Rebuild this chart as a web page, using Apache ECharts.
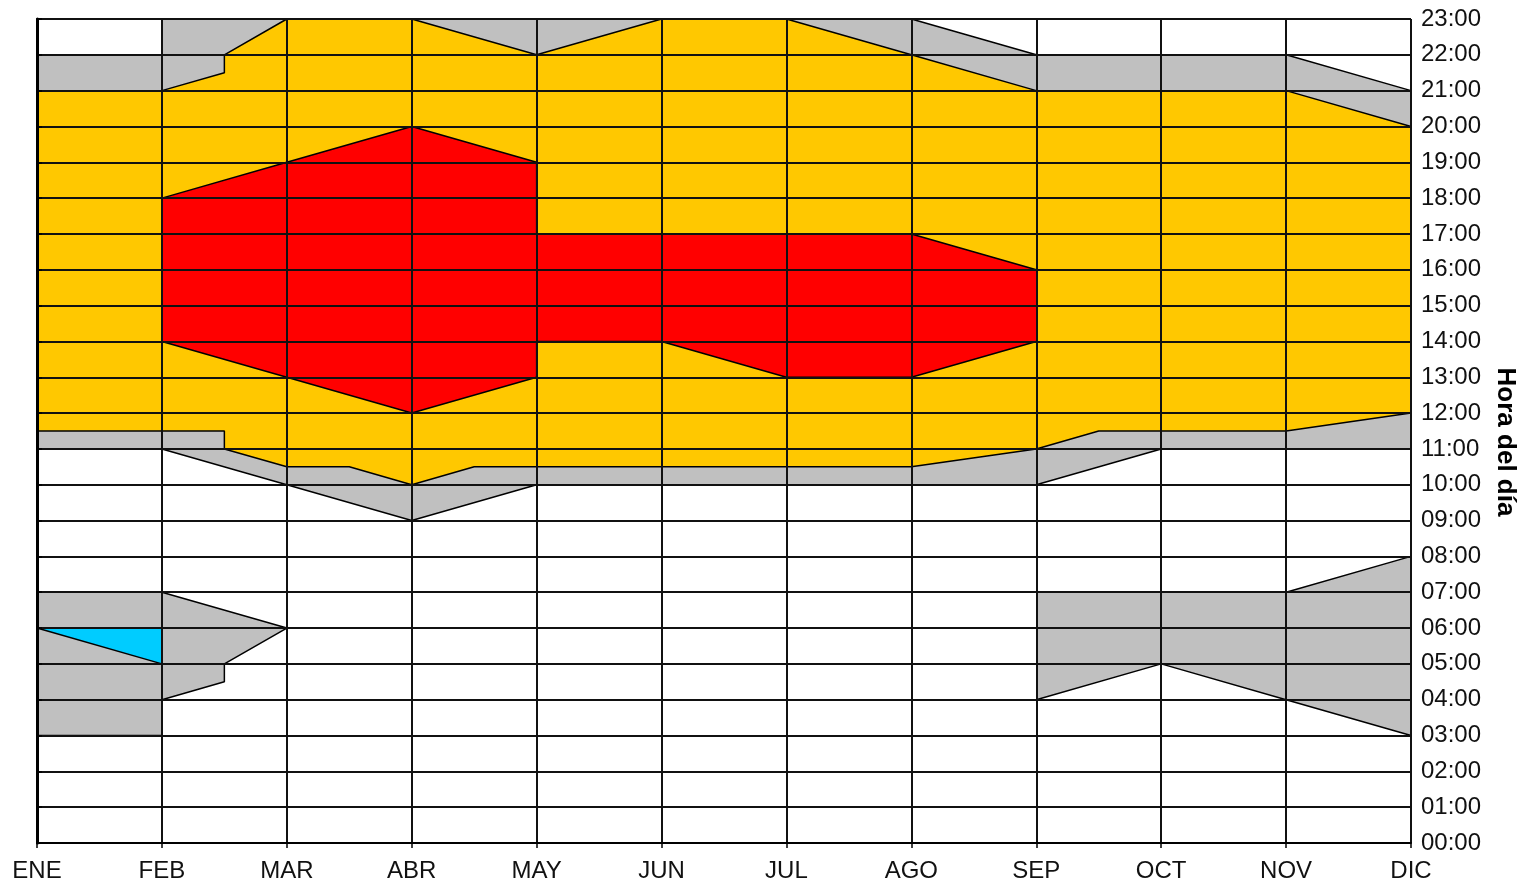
<!DOCTYPE html>
<html>
<head>
<meta charset="utf-8">
<script src="https://cdn.jsdelivr.net/npm/echarts@6/dist/echarts.min.js"></script>
<style>
html, body { margin: 0; padding: 0; background: #fff; }
#chart { width: 1520px; height: 886px; }
</style>
</head>
<body>
<div id="chart"></div>
<script>
// months along the bottom, hours on the right
var months = ['ENE', 'FEB', 'MAR', 'ABR', 'MAY', 'JUN', 'JUL', 'AGO', 'SEP', 'OCT', 'NOV', 'DIC'];
var hourLabels = ['00:00', '01:00', '02:00', '03:00', '04:00', '05:00', '06:00', '07:00',
    '08:00', '09:00', '10:00', '11:00', '12:00', '13:00', '14:00', '15:00',
    '16:00', '17:00', '18:00', '19:00', '20:00', '21:00', '22:00', '23:00'];

// band edges: [month index, hour]
var upperGrayTop = [[0, 22], [1, 22], [1, 23], [2, 23], [3, 23], [4, 23], [5, 23], [6, 23], [7, 23], [8, 22], [9, 22], [10, 22], [11, 21]];
var yellowTop = [[0, 21], [1, 21], [1.5, 21.5], [1.5, 22], [2, 23], [3, 23], [4, 22], [5, 23], [6, 23], [7, 22], [8, 21], [9, 21], [10, 21], [11, 20]];
var redTop = [[1, 18], [2, 19], [3, 20], [4, 19], [4, 17], [5, 17], [6, 17], [7, 17], [8, 16]];
var redBottom = [[1, 14], [2, 13], [3, 12], [4, 13], [4, 14], [5, 14], [6, 13], [7, 13], [8, 14]];
var yellowBottom = [[0, 11.5], [1, 11.5], [1.5, 11.5], [1.5, 11], [2, 10.5], [2.5, 10.5], [3, 10], [3.5, 10.5], [4, 10.5], [5, 10.5], [6, 10.5], [7, 10.5], [8, 11], [8.5, 11.5], [9, 11.5], [10, 11.5], [11, 12]];
var upperGrayBottom = [[0, 11], [1, 11], [2, 10], [3, 9], [4, 10], [5, 10], [6, 10], [7, 10], [8, 10], [9, 11], [10, 11], [11, 11]];
var lowGrayTopA = [[0, 7], [1, 7], [2, 6]];
var lowGrayBottomA = [[0, 3], [1, 3], [1, 4], [1.5, 4.5], [1.5, 5], [2, 6]];
var lowGrayTopB = [[8, 7], [9, 7], [10, 7], [11, 8]];
var lowGrayBottomB = [[8, 4], [9, 5], [10, 4], [11, 3]];
var cyanTop = [[0, 6], [1, 6]];
var cyanBottom = [[0, 6], [1, 5]];

var GRAY = '#c0c0c0', YELLOW = '#ffc800', RED = '#ff0000', CYAN = '#00ccff', WHITE = '#ffffff';

// each band is painted from its edge down to 0, later ones on top
function band(data, color) {
    return {
        type: 'line',
        data: data,
        symbol: 'none',
        silent: true,
        lineStyle: { color: '#000', width: 1.5 },
        areaStyle: { color: color, opacity: 1 }
    };
}

var myChart = echarts.init(document.getElementById('chart'));

var option = {
    animation: false,
    backgroundColor: '#fff',
    textStyle: { fontFamily: 'Liberation Sans, Arial, sans-serif' },
    grid: { left: 37, right: 109, top: 19, bottom: 43, containLabel: false, outerBoundsMode: 'none' },
    xAxis: {
        type: 'value',
        min: 0,
        max: 11,
        interval: 1,
        z: 5,
        axisLine: { lineStyle: { color: '#000', width: 2 } },
        axisTick: { show: true, length: 5, lineStyle: { color: '#000', width: 1.5 } },
        axisLabel: {
            color: '#111',
            fontSize: 24,
            margin: 16,
            formatter: function (v) { return months[v]; }
        },
        splitLine: { show: true, lineStyle: { color: '#111', width: 2 } }
    },
    yAxis: [
        {
            type: 'value',
            position: 'right',
            min: 0,
            max: 23,
            interval: 1,
            z: 5,
            name: 'Hora del día',
            nameLocation: 'middle',
            nameRotate: -90,
            nameGap: 80,
            nameTextStyle: { color: '#000', fontSize: 26, fontWeight: 'bold', padding: [0, 0, 0, 22] },
            axisLine: { show: true, lineStyle: { color: '#000', width: 2 } },
            axisTick: { show: true, length: 5, lineStyle: { color: '#000', width: 1.5 } },
            axisLabel: {
                color: '#111',
                fontSize: 24,
                margin: 10,
                padding: [8, 0, 0, 0],
                formatter: function (v) { return hourLabels[v]; }
            },
            splitLine: { show: true, lineStyle: { color: '#111', width: 2 } }
        },
        {
            // thick left frame
            type: 'value',
            position: 'left',
            min: 0,
            max: 23,
            z: 6,
            axisLine: { show: true, lineStyle: { color: '#000', width: 3 } },
            axisTick: { show: false },
            axisLabel: { show: false },
            splitLine: { show: false }
        }
    ],
    series: [
        band(upperGrayTop, GRAY),
        band(yellowTop, YELLOW),
        band(redTop, RED),
        band(redBottom, YELLOW),
        band(yellowBottom, GRAY),
        band(upperGrayBottom, WHITE),
        band(lowGrayTopA, GRAY),
        band(lowGrayTopB, GRAY),
        band(cyanTop, CYAN),
        band(cyanBottom, GRAY),
        band(lowGrayBottomA, WHITE),
        band(lowGrayBottomB, WHITE)
    ]
};
myChart.setOption(option);
</script>
</body>
</html>
